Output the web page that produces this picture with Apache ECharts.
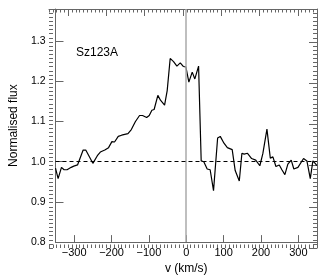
<!DOCTYPE html>
<html>
<head>
<meta charset="utf-8">
<script src="https://cdn.jsdelivr.net/npm/echarts@6/dist/echarts.min.js"></script>
<style>html,body{margin:0;padding:0;background:#fff}#c{width:327px;height:280px}</style>
</head>
<body>
<div id="c"></div>
<script>
const velocity = [-350,-343,-334,-327,-319,-308,-301,-291,-276,-269,-250,-238,-230,-218,-208,-199,-192,-182,-173,-156,-147,-136,-125,-117,-106,-99,-92,-86,-76,-69,-58,-51,-43,-34,-25,-16,-8,-1,7,16,23,33,40,47,56,64,73,84,91,101,110,123,127,131,142,149,155,164,175,186,197,205,216,225,232,240,249,256,264,272,281,288,299,314,323,332,339,345,350];
const flux = [0.984,0.958,0.986,0.980,0.980,0.986,0.989,0.992,1.029,1.029,0.996,1.015,1.024,1.029,1.035,1.050,1.049,1.063,1.066,1.070,1.080,1.100,1.115,1.115,1.110,1.115,1.128,1.130,1.165,1.153,1.141,1.177,1.257,1.249,1.238,1.246,1.237,1.236,1.198,1.223,1.206,1.238,1.002,1.000,0.982,0.980,0.928,1.059,1.063,1.046,1.035,1.030,1.029,0.978,0.952,1.021,1.019,1.021,1.008,1.004,0.990,1.020,1.081,1.009,1.012,0.988,0.992,0.980,0.968,0.994,1.004,0.982,0.986,1.008,1.002,0.958,1.002,0.996,0.990];
const xTicks = [-300,-200,-100,0,100,200,300];
const yTicks = [0.8,0.9,1.0,1.1,1.2,1.3];
const starName = 'Sz123A';
const xTitle = 'v (km/s)';
const yTitle = 'Normalised flux';

const axisCol = '#666';
const fontFam = 'Liberation Sans, Arial, sans-serif';
const chart = echarts.init(document.getElementById('c'), null, {renderer:'canvas'});
const G = {left:49, right:10, top:9, bottom:32};
const xBase = {type:'value', min:-350, max:350, splitLine:{show:false}};
const yBase = {type:'value', min:0.8, max:1.38, splitLine:{show:false}};
chart.setOption({
  animation:false,
  grid:[Object.assign({},G), Object.assign({},G), Object.assign({},G), Object.assign({},G)],
  xAxis:[
    Object.assign({}, xBase, {gridIndex:0, position:'bottom', name:xTitle, nameLocation:'middle', nameGap:18,
      nameTextStyle:{color:'#000', fontSize:12, fontFamily:fontFam},
      axisLine:{show:true, onZero:false, lineStyle:{color:axisCol}},
      axisTick:{show:true, inside:true, length:7, customValues:xTicks, lineStyle:{color:axisCol}},
      axisLabel:{show:true, margin:5, customValues:xTicks, color:'#000', fontSize:11, fontFamily:fontFam,
        formatter:v=>String(v).replace('-','\u2212')}}),
    Object.assign({}, xBase, {gridIndex:1, position:'bottom', interval:10,
      axisLine:{show:false, onZero:false}, axisLabel:{show:false},
      axisTick:{show:true, inside:true, length:3.5, lineStyle:{color:axisCol}}}),
    Object.assign({}, xBase, {gridIndex:2, position:'top',
      axisLine:{show:true, onZero:false, lineStyle:{color:axisCol}}, axisLabel:{show:false},
      axisTick:{show:true, inside:true, length:7, customValues:xTicks, lineStyle:{color:axisCol}}}),
    Object.assign({}, xBase, {gridIndex:3, position:'top', interval:10,
      axisLine:{show:false, onZero:false}, axisLabel:{show:false},
      axisTick:{show:true, inside:true, length:3.5, lineStyle:{color:axisCol}}})
  ],
  yAxis:[
    Object.assign({}, yBase, {gridIndex:0, position:'left', name:yTitle, nameLocation:'middle', nameGap:27,
      nameTextStyle:{color:'#000', fontSize:12, fontFamily:fontFam},
      axisLine:{show:true, onZero:false, lineStyle:{color:axisCol}},
      axisTick:{show:true, inside:true, length:8, customValues:yTicks, lineStyle:{color:axisCol}},
      axisLabel:{show:true, margin:10, customValues:yTicks, color:'#000', fontSize:10.5, fontFamily:fontFam,
        formatter:v=>Number(v).toFixed(1)}}),
    Object.assign({}, yBase, {gridIndex:1, position:'left', interval:0.01,
      axisLine:{show:false, onZero:false}, axisLabel:{show:false},
      axisTick:{show:true, inside:true, length:4, lineStyle:{color:axisCol}}}),
    Object.assign({}, yBase, {gridIndex:2, position:'right',
      axisLine:{show:true, onZero:false, lineStyle:{color:axisCol}}, axisLabel:{show:false},
      axisTick:{show:true, inside:true, length:8, customValues:yTicks, lineStyle:{color:axisCol}}}),
    Object.assign({}, yBase, {gridIndex:3, position:'right', interval:0.01,
      axisLine:{show:false, onZero:false}, axisLabel:{show:false},
      axisTick:{show:true, inside:true, length:4, lineStyle:{color:axisCol}}})
  ],
  graphic:[{type:'text', left:76, top:47, style:{text:starName, fontSize:12, fontFamily:fontFam, fill:'#000'}}],
  series:[{
    type:'line', xAxisIndex:0, yAxisIndex:0,
    data: velocity.map((v,i)=>[v, flux[i]]),
    showSymbol:false, symbol:'none',
    lineStyle:{color:'#000', width:1.2},
    markLine:{silent:true, symbol:['none','none'], label:{show:false}, animation:false,
      data:[
        {xAxis:0, lineStyle:{color:'#aaa', width:1.5, type:'solid'}},
        {yAxis:1.0, lineStyle:{color:'#000', width:1, type:[4,3]}}
      ]},
    z:3
  }]
});
</script>
</body>
</html>
